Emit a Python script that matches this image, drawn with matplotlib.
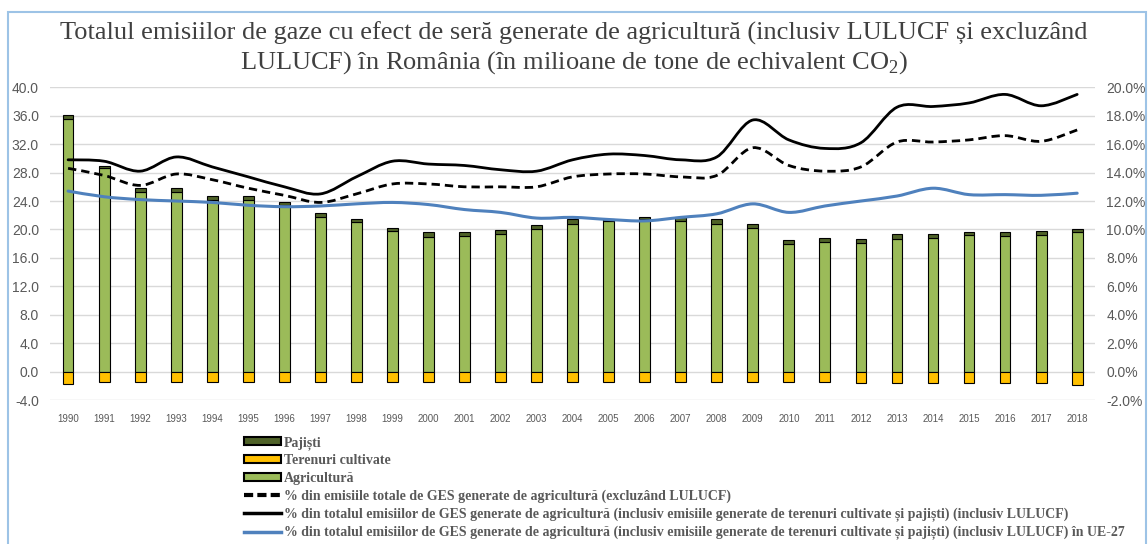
import numpy as np
import matplotlib
matplotlib.use('Agg')
import matplotlib.pyplot as plt
from matplotlib.path import Path
from matplotlib.patches import PathPatch, Patch, Rectangle
from matplotlib.lines import Line2D
from matplotlib.ticker import FormatStrFormatter, FuncFormatter

plt.rcParams['font.family'] = ['Liberation Sans', 'DejaVu Sans']
plt.rcParams['mathtext.fontset'] = 'custom'
plt.rcParams['mathtext.rm'] = 'Liberation Serif'

#%% DATA (milioane tone echivalent CO2 / %)

years = list(range(1990, 2019))
agricultura = [35.6, 28.6, 25.3, 25.3, 24.1, 24.1, 23.5, 21.8, 21.0, 19.8,
               19.0, 19.1, 19.4, 20.0, 20.8, 21.2, 21.5, 21.2, 20.8, 20.2,
               18.0, 18.2, 18.1, 18.7, 18.8, 19.2, 19.1, 19.2, 19.7]
pajisti = [0.5, 0.3, 0.6, 0.6, 0.6, 0.6, 0.4, 0.5, 0.5, 0.4,
           0.6, 0.6, 0.5, 0.6, 0.6, 0.2, 0.2, 0.5, 0.6, 0.5,
           0.5, 0.6, 0.5, 0.6, 0.5, 0.5, 0.6, 0.6, 0.3]
terenuri = [-1.7, -1.4, -1.4, -1.4, -1.4, -1.4, -1.4, -1.4, -1.4, -1.4,
            -1.4, -1.4, -1.4, -1.4, -1.4, -1.4, -1.4, -1.4, -1.4, -1.4,
            -1.5, -1.5, -1.6, -1.6, -1.6, -1.6, -1.6, -1.6, -1.9]

pct_excl = [14.3, 13.8, 13.1, 13.9, 13.5, 12.9, 12.4, 11.9, 12.5, 13.2,
            13.2, 13.0, 13.0, 13.0, 13.7, 13.9, 13.9, 13.7, 13.8, 15.75,
            14.5, 14.1, 14.4, 16.15, 16.15, 16.3, 16.6, 16.2, 17.0]
pct_incl = [14.9, 14.8, 14.1, 15.1, 14.4, 13.7, 13.0, 12.5, 13.7, 14.8,
            14.6, 14.5, 14.2, 14.1, 14.9, 15.3, 15.2, 14.9, 15.1, 17.7,
            16.3, 15.7, 16.1, 18.6, 18.65, 18.9, 19.5, 18.7, 19.5]
pct_ue27 = [12.7, 12.3, 12.1, 12.0, 11.9, 11.7, 11.6, 11.65, 11.8, 11.9,
            11.75, 11.4, 11.2, 10.8, 10.85, 10.7, 10.6, 10.85, 11.1, 11.8,
            11.2, 11.65, 12.0, 12.35, 12.9, 12.45, 12.45, 12.4, 12.55]

labels = ['Pajiști', 'Terenuri cultivate', 'Agricultură',
          '% din emisiile totale de GES generate de agricultură (excluzând LULUCF)',
          '% din totalul emisiilor de GES generate de agricultură (inclusiv emisiile generate de terenuri cultivate și pajiști) (inclusiv LULUCF)',
          '% din totalul emisiilor de GES generate de agricultură (inclusiv emisiile generate de terenuri cultivate și pajiști) (inclusiv LULUCF) în UE-27']

col_agri = '#9BBB59'
col_paj = '#4F6228'
col_ter = '#FFC000'
col_blue = '#4F81BD'
col_text = '#595959'


def smooth_path(x, y):
    # Excel-style smoothed line: cubic Bezier through each point
    x = np.asarray(x, float)
    y = np.asarray(y, float)
    pts = np.column_stack([x, y])
    verts = [pts[0]]
    codes = [Path.MOVETO]
    n = len(pts)
    for i in range(n - 1):
        p0 = pts[max(i - 1, 0)]
        p1 = pts[i]
        p2 = pts[i + 1]
        p3 = pts[min(i + 2, n - 1)]
        verts += [p1 + (p2 - p0) / 6, p2 - (p3 - p1) / 6, p2]
        codes += [Path.CURVE4] * 3
    return Path(verts, codes)


#%% FIGURE

fig = plt.figure(figsize=(11.48, 5.44), dpi=100)
ax = fig.add_axes([0.0436, 0.2647, 0.9104, 0.5748])
x = np.array(years)
w = 0.3

ax.bar(x, agricultura, w, color=col_agri, edgecolor='black', linewidth=0.8, zorder=3)
ax.bar(x, pajisti, w, bottom=agricultura, color=col_paj, edgecolor='black', linewidth=0.8, zorder=3)
ax.bar(x, terenuri, w, color=col_ter, edgecolor='black', linewidth=0.8, zorder=3)

ax.set_xlim(1989.5, 2018.5)
ax.set_ylim(-4, 40)
ax.set_yticks(np.arange(-4, 40.1, 4))
ax.yaxis.set_major_formatter(FormatStrFormatter('%.1f'))
ax.set_xticks(x)
ax.set_xticklabels([str(y) for y in years])
ax.grid(axis='y', color='#D9D9D9', linewidth=1, zorder=0)
ax.set_axisbelow(True)
for s in ax.spines.values():
    s.set_visible(False)
ax.tick_params(axis='y', length=0, labelsize=10, labelcolor=col_text, pad=8)
ax.tick_params(axis='x', length=0, labelsize=7, labelcolor=col_text, pad=10)

ax2 = ax.twinx()
ax2.set_ylim(-2, 20)
ax2.set_yticks(np.arange(-2, 20.1, 2))
ax2.yaxis.set_major_formatter(FuncFormatter(lambda v, p: f'{v:.1f}%'))
for s in ax2.spines.values():
    s.set_visible(False)
ax2.tick_params(axis='y', length=0, labelsize=10, labelcolor=col_text, pad=8)

ax2.add_patch(PathPatch(smooth_path(x, pct_ue27), fill=False, edgecolor=col_blue,
                        linewidth=2.2, zorder=4, capstyle='round'))
ax2.add_patch(PathPatch(smooth_path(x, pct_excl), fill=False, edgecolor='black',
                        linewidth=2.0, linestyle=(0, (3, 1.8)), zorder=4))
ax2.add_patch(PathPatch(smooth_path(x, pct_incl), fill=False, edgecolor='black',
                        linewidth=2.0, zorder=4, capstyle='round'))

fig.text(0.5, 1 - 33 / 544, 'Totalul emisiilor de gaze cu efect de seră generate de agricultură (inclusiv LULUCF și excluzând',
         ha='center', va='center', fontsize=19, family='Liberation Serif', color='#404040')
fig.text(0.5, 1 - 63 / 544, r'LULUCF) în România (în milioane de tone de echivalent CO$_\mathrm{2}$)',
         ha='center', va='center', fontsize=19, family='Liberation Serif', color='#404040')

handles = [
    Patch(facecolor=col_paj, edgecolor='black', linewidth=1.5),
    Patch(facecolor=col_ter, edgecolor='black', linewidth=1.5),
    Patch(facecolor=col_agri, edgecolor='black', linewidth=1.5),
    Line2D([], [], color='black', linewidth=3, linestyle=(0, (2.2, 1))),
    Line2D([], [], color='black', linewidth=2.5),
    Line2D([], [], color=col_blue, linewidth=2.5),
]
fig.legend(handles, labels, loc='upper left', bbox_to_anchor=(244 / 1148, 1 - 436 / 544),
           frameon=False, prop={'family': 'Liberation Serif', 'size': 10, 'weight': 'bold'},
           labelcolor=col_text, handlelength=2.65, handleheight=0.5,
           handletextpad=0.25, labelspacing=0.33, borderpad=0, borderaxespad=0)

fig.patches.append(Rectangle((8 / 1148, -0.05), 1138 / 1148, 1.05 - 12 / 544,
                             transform=fig.transFigure, fill=False,
                             edgecolor='#9DC3E6', linewidth=1.5))

fig.savefig('out.png', dpi=100)
